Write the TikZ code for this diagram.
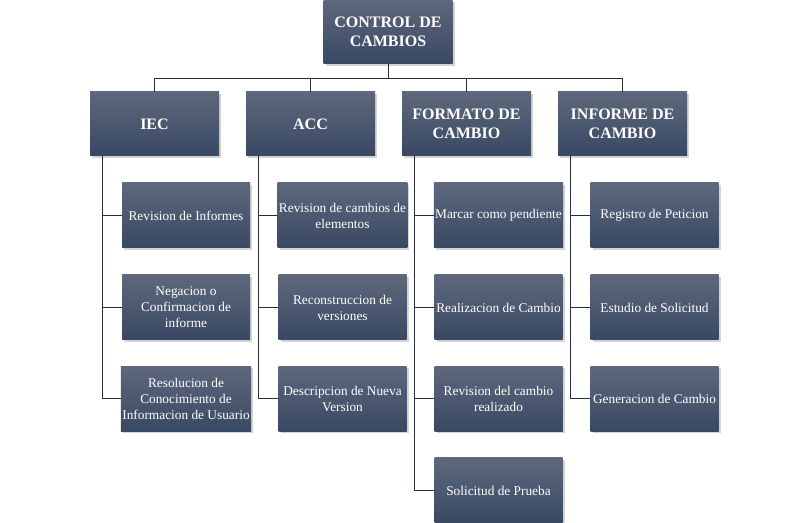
\documentclass[tikz,border=0pt]{standalone}
\usepackage{fontspec}
\setmainfont{Liberation Serif}
\usetikzlibrary{calc,positioning,shadows}
\definecolor{boxtop}{RGB}{94,104,124}
\definecolor{boxbottom}{RGB}{57,72,99}
\definecolor{linegray}{RGB}{38,46,62}

\tikzset{
	box/.style={top color=boxtop, bottom color=boxbottom, text=white, align=center, inner sep=1pt,
		drop shadow={shadow xshift=1.5pt, shadow yshift=-1.5pt, opacity=0.35}},
	mainbox/.style={box, minimum width=96.75pt, minimum height=48pt, font=\bfseries\fontsize{12}{14}\selectfont},
	subbox/.style={box, minimum width=96pt, minimum height=48.75pt, font=\fontsize{10}{12}\selectfont},
	link/.style={draw=linegray, line width=0.75pt}
}

\begin{document}
\begin{tikzpicture}[x=0.75pt,y=-0.75pt]
	\useasboundingbox (0,0) rectangle (810,523);

	% top level
	\node[mainbox] (root) at (388,32) {CONTROL DE\\CAMBIOS};

	% second level
	\node[mainbox] (iec) at (154.5,124) {IEC};
	\node[mainbox] (acc) at (310.5,124) {ACC};
	\node[mainbox] (fmt) at (466.5,124) {FORMATO DE\\CAMBIO};
	\node[mainbox] (inf) at (622.5,124) {INFORME DE\\CAMBIO};

	% IEC
	\node[subbox] (iec1) at (186,215.5) {Revision de Informes};
	\node[subbox] (iec2) at (186,307.5) {Negacion o\\Confirmacion de\\informe};
	\node[subbox] (iec3) at (186,399) {Resolucion de\\Conocimiento de\\Informacion de Usuario};

	% ACC
	\node[subbox] (acc1) at (342.5,215.5) {Revision de cambios de\\elementos};
	\node[subbox] (acc2) at (342.5,307.5) {Reconstruccion de\\versiones};
	\node[subbox] (acc3) at (342.5,399) {Descripcion de Nueva\\Version};

	% formato de cambio
	\node[subbox] (fmt1) at (498.5,215.5) {Marcar como pendiente};
	\node[subbox] (fmt2) at (498.5,307.5) {Realizacion de Cambio};
	\node[subbox] (fmt3) at (498.5,399) {Revision del cambio\\realizado};
	\node[subbox] (fmt4) at (498.5,490.5) {Solicitud de Prueba};

	% informe de cambio
	\node[subbox] (inf1) at (654.5,215.5) {Registro de Peticion};
	\node[subbox] (inf2) at (654.5,307.5) {Estudio de Solicitud};
	\node[subbox] (inf3) at (654.5,399) {Generacion de Cambio};

	% bus from the top box
	\draw[link] (root.south) -- ++(0,14) -| (iec.north);
	\draw[link] (root.south) -- ++(0,14) -| (acc.north);
	\draw[link] (root.south) -- ++(0,14) -| (fmt.north);
	\draw[link] (root.south) -- ++(0,14) -| (inf.north);

	% spines
	\coordinate (iecs) at ($(iec.south west)+(13,0)$);
	\coordinate (accs) at ($(acc.south west)+(13,0)$);
	\coordinate (fmts) at ($(fmt.south west)+(13,0)$);
	\coordinate (infs) at ($(inf.south west)+(13,0)$);

	\draw[link] (iecs) |- (iec1.west);
	\draw[link] (iecs) |- (iec2.west);
	\draw[link] (iecs) |- (iec3.west);

	\draw[link] (accs) |- (acc1.west);
	\draw[link] (accs) |- (acc2.west);
	\draw[link] (accs) |- (acc3.west);

	\draw[link] (fmts) |- (fmt1.west);
	\draw[link] (fmts) |- (fmt2.west);
	\draw[link] (fmts) |- (fmt3.west);
	\draw[link] (fmts) |- (fmt4.west);

	\draw[link] (infs) |- (inf1.west);
	\draw[link] (infs) |- (inf2.west);
	\draw[link] (infs) |- (inf3.west);
\end{tikzpicture}
\end{document}
